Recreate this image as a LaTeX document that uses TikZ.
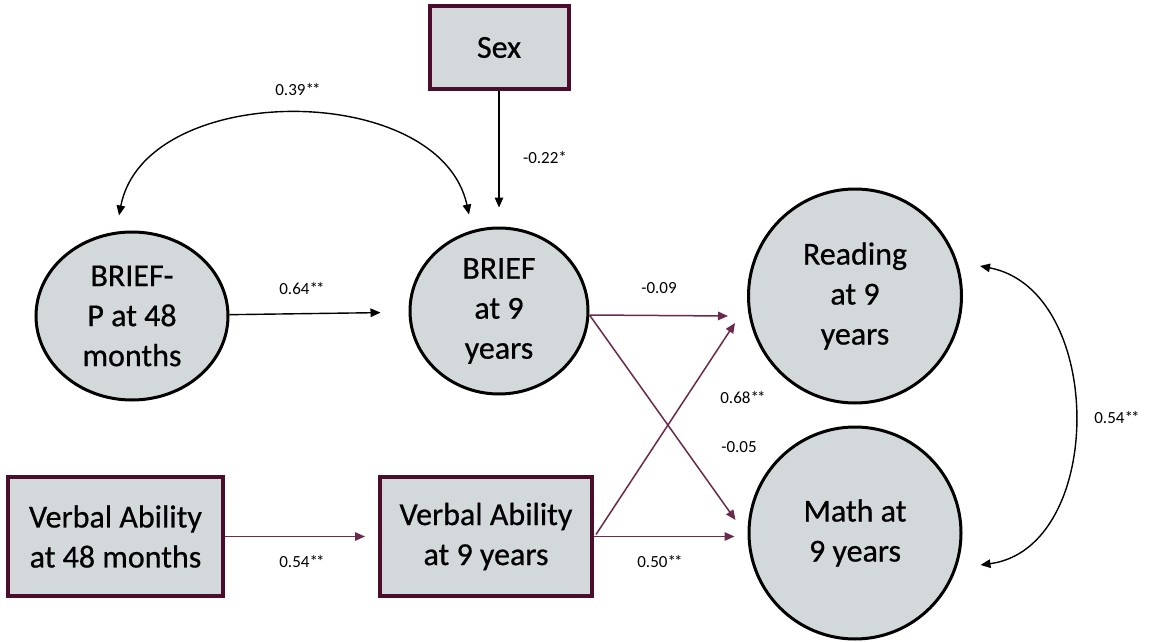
\documentclass[tikz,border=0pt]{standalone}
\usepackage{fontspec}
\setmainfont{Carlito}
\newfontfamily\nodefont[FakeBold=0.6]{Carlito}
\usetikzlibrary{arrows.meta,shapes.geometric,calc}
\definecolor{boxborder}{HTML}{4A0D2C}
\definecolor{arrmaroon}{HTML}{6A2A4C}
\definecolor{nodefill}{HTML}{D3D8DB}
\newcommand{\twostar}{*\kern-1.8pt*}
\begin{document}
\begin{tikzpicture}[x=1pt,y=-1pt,
  latent/.style={ellipse,draw=black,line width=3pt,fill=nodefill,inner sep=0pt,
    align=center,font=\nodefont\fontsize{32}{40}\selectfont},
  observed/.style={rectangle,draw=boxborder,line width=4pt,fill=nodefill,inner sep=0pt,
    align=center,font=\nodefont\fontsize{32}{40}\selectfont},
  tip/.style={-{Triangle[length=10pt,width=8.5pt]}},
  bothtip/.style={{Triangle[length=10pt,width=8.5pt]}-{Triangle[length=10pt,width=8.5pt]}},
  blackpath/.style={draw=black,line width=1.4pt},
  maroonpath/.style={draw=arrmaroon,fill=arrmaroon,line width=1.5pt},
  coef/.style={font=\fontsize{17}{20}\selectfont,inner sep=0pt}]
\useasboundingbox (0,0) rectangle (1152,642);
\fill[white] (0,0) rectangle (1152,642);

% nodes
\node[observed,minimum width=139pt,minimum height=83pt] (sex) at (499,47.5) {Sex};
\node[latent,minimum width=192pt,minimum height=168pt] (bp) at (132,316) {BRIEF-\\P at 48\\months};
\node[latent,minimum width=178pt,minimum height=166pt] (b9) at (499,311) {BRIEF\\at 9\\years};
\node[latent,minimum width=213pt,minimum height=214pt] (rd) at (855,296) {Reading\\at 9\\years};
\node[latent,minimum width=212pt,minimum height=212pt] (mt) at (855,533) {Math at\\9 years};
\node[observed,minimum width=215pt,minimum height=119pt] (v48) at (115.5,536.5) {Verbal Ability\\at 48 months};
\node[observed,minimum width=212pt,minimum height=119pt] (v9) at (486,536.5) {Verbal Ability\\at 9 years};

% black paths
\draw[blackpath,tip,shorten >=19pt] (sex.south) -- (b9.north);
\draw[blackpath,bothtip] ($(bp.north)+(-13,-15)$) .. controls (145,80) and (440,80) .. ($(b9.north)+(-30,-12)$);
\draw[blackpath,tip,shorten >=28pt] (bp) -- (b9);
\draw[blackpath,bothtip] ($(rd.east)+(17,-30)$) .. controls (1106,290) and (1106,548) .. ($(mt.east)+(18,32)$);

% maroon paths
\draw[maroonpath,tip] ($(b9.east)+(0,4)$) -- ($(rd.west)+(-19,20)$);
\draw[maroonpath,tip] ($(b9.east)+(0,4)$) -- ($(mt.west)+(-12,-13)$);
\draw[maroonpath,tip] ($(v9.east)+(2,-2)$) -- ($(rd.west)+(-12,27)$);
\draw[maroonpath,tip] (v9.east) -- ($(mt.west)+(-13,3.5)$);
\draw[maroonpath,tip,shorten >=13pt] (v48) -- (v9);

% coefficients
\node[coef] (c1) at (298,90) {0.39\twostar};
\node[coef] (c2) at (545,158) {-0.22*};
\node[coef] (c3) at (302,289) {0.64\twostar};
\node[coef] (c4) at (659,288) {-0.09};
\node[coef] (c5) at (743,398) {0.68\twostar};
\node[coef] (c6) at (739,447) {-0.05};
\node[coef] (c7) at (660,562) {0.50\twostar};
\node[coef] (c8) at (302,562) {0.54\twostar};
\node[coef] (c9) at (1117,418) {0.54\twostar};
\end{tikzpicture}
\end{document}
